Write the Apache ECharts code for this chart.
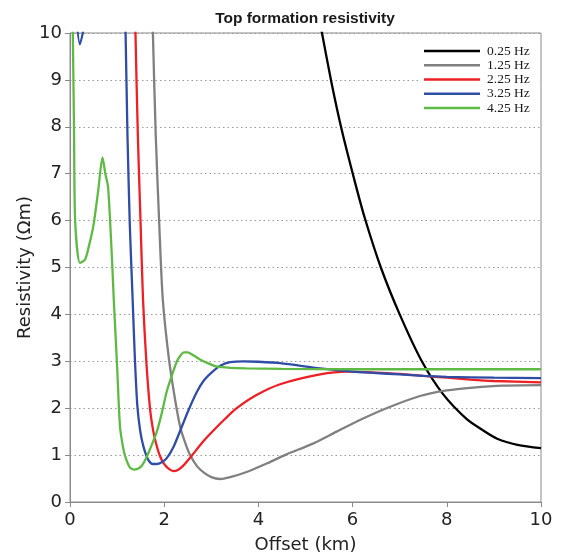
<!DOCTYPE html>
<html>
<head>
<meta charset="utf-8">
<script src="https://cdn.jsdelivr.net/npm/echarts@6/dist/echarts.min.js"></script>
<style>html,body{margin:0;padding:0;background:#fff}#c{width:562px;height:559px}</style>
</head>
<body>
<div id="c"></div>
<script>
const seriesNames = ['0.25 Hz', '1.25 Hz', '2.25 Hz', '3.25 Hz', '4.25 Hz'];
const xTicks = [0, 2, 4, 6, 8, 10];
const yTicks = [0, 1, 2, 3, 4, 5, 6, 7, 8, 9, 10];

const x025 = [5.2, 5.35, 5.55, 5.77, 6.05, 6.26, 6.6, 7.0, 7.47, 7.92, 8.43, 8.75, 9.07, 9.5, 10];
const r025 = [10.8, 10.0, 8.95, 7.93, 6.82, 6.05, 5.0, 4.0, 3.0, 2.3, 1.76, 1.54, 1.35, 1.22, 1.15];

const x125 = [1.73, 1.76, 1.82, 1.9, 1.97, 2.1, 2.23, 2.34, 2.45, 2.55, 2.7, 2.85, 3.0, 3.18, 3.4, 3.75, 4.2, 4.56, 5.17, 5.66, 6.2, 6.72, 7.43, 8.0, 8.56, 9.2, 10];
const r125 = [11.2, 10.0, 7.83, 5.8, 4.32, 3.05, 2.19, 1.6, 1.25, 1.0, 0.76, 0.62, 0.53, 0.49, 0.53, 0.64, 0.83, 1.0, 1.25, 1.5, 1.77, 2.0, 2.26, 2.38, 2.44, 2.48, 2.49];

const x225 = [1.37, 1.39, 1.44, 1.5, 1.55, 1.62, 1.70, 1.77, 1.84, 1.91, 1.98, 2.08, 2.19, 2.3, 2.41, 2.58, 2.8, 3.04, 3.3, 3.54, 3.96, 4.46, 5.31, 5.88, 6.5, 7.0, 7.5, 8.0, 8.5, 9.0, 10];
const r225 = [11.0, 10.0, 7.83, 5.9, 4.32, 3.0, 1.98, 1.5, 1.2, 0.98, 0.84, 0.72, 0.66, 0.69, 0.78, 0.98, 1.26, 1.52, 1.78, 2.0, 2.28, 2.51, 2.72, 2.78, 2.76, 2.73, 2.69, 2.65, 2.61, 2.58, 2.55];

const x325 = [0.12, 0.21, 0.34, 0.6, 1.1, 1.15, 1.18, 1.22, 1.27, 1.33, 1.38, 1.43, 1.49, 1.56, 1.66, 1.75, 1.84, 1.95, 2.05, 2.2, 2.34, 2.5, 2.69, 2.85, 3.04, 3.2, 3.4, 3.68, 4.0, 4.46, 5.31, 6.0, 6.5, 7.0, 7.5, 8.0, 9.0, 10];
const r325 = [10.5, 9.76, 10.35, 11.5, 12, 11.3, 10.0, 7.83, 5.9, 4.32, 3.0, 2.05, 1.52, 1.18, 0.9, 0.81, 0.81, 0.85, 0.93, 1.18, 1.52, 1.92, 2.34, 2.6, 2.79, 2.91, 2.98, 3.0, 2.99, 2.96, 2.85, 2.78, 2.75, 2.72, 2.69, 2.67, 2.65, 2.64];

const x425 = [0.05, 0.06, 0.085, 0.11, 0.21, 0.32, 0.4, 0.5, 0.6, 0.69, 0.75, 0.81, 0.9, 0.93, 1.0, 1.06, 1.12, 1.17, 1.27, 1.36, 1.44, 1.52, 1.6, 1.7, 1.84, 1.95, 2.05, 2.17, 2.27, 2.35, 2.42, 2.5, 2.6, 2.76, 2.95, 3.11, 3.4, 3.75, 4.5, 6, 8, 10];
const r425 = [10.8, 10.0, 8.0, 5.98, 5.1, 5.17, 5.45, 5.91, 6.65, 7.35, 7.0, 6.7, 5.0, 4.3, 2.9, 1.62, 1.2, 0.98, 0.74, 0.69, 0.71, 0.77, 0.9, 1.13, 1.49, 1.9, 2.34, 2.72, 3.0, 3.13, 3.19, 3.19, 3.14, 3.04, 2.95, 2.89, 2.86, 2.85, 2.84, 2.83, 2.83, 2.83];

const colors = ['#000000', '#808080', '#ee1f25', '#2f4da6', '#5fba45'];
const xs = [x025, x125, x225, x325, x425];
const rs = [r025, r125, r225, r325, r425];

const chart = echarts.init(document.getElementById('c'), null, {renderer: 'canvas'});
const axisFont = 'DejaVu Sans';
chart.setOption({
  animation: false,
  backgroundColor: '#ffffff',
  title: {
    text: 'Top formation resistivity',
    left: 300, top: 6, textAlign: 'center',
    textStyle: {fontFamily: 'Liberation Sans', fontWeight: 'bold', fontSize: 15.5, color: '#1a1a1a'}
  },
  legend: {
    orient: 'vertical', left: 418, top: 34,
    padding: [10, 10, 6, 6],
    backgroundColor: '#ffffff',
    icon: 'rect', itemWidth: 56, itemHeight: 2.5, itemGap: 0.25,
    textStyle: {fontFamily: 'Liberation Serif', fontSize: 13.5, color: '#1a1a1a', lineHeight: 14, padding: [0, 0, 0, 2]},
    data: seriesNames
  },
  grid: {left: 70, right: 21, top: 33, bottom: 56, show: true, borderColor: '#8a8a8a', borderWidth: 1},
  xAxis: {
    type: 'value', min: 0, max: 10, interval: 2,
    name: 'Offset (km)', nameLocation: 'middle', nameGap: 34,
    nameTextStyle: {fontFamily: axisFont, fontSize: 18, color: '#222'},
    axisLine: {show: true, lineStyle: {color: '#8a8a8a'}},
    axisTick: {show: true, length: 5, lineStyle: {color: '#8a8a8a'}},
    axisLabel: {fontFamily: axisFont, fontSize: 18, color: '#222', margin: 9,
      formatter: v => xTicks.includes(v) ? String(v) : ''},
    splitLine: {show: false}
  },
  yAxis: {
    type: 'value', min: 0, max: 10, interval: 1,
    name: 'Resistivity (Ωm)', nameLocation: 'middle', nameGap: 36, nameMoveOverlap: false,
    nameTextStyle: {fontFamily: axisFont, fontSize: 18, color: '#222'},
    axisLine: {show: true, lineStyle: {color: '#8a8a8a'}},
    axisTick: {show: true, length: 5, lineStyle: {color: '#8a8a8a'}},
    axisLabel: {fontFamily: axisFont, fontSize: 18, color: '#222', margin: 8,
      formatter: v => yTicks.includes(v) ? String(v) : ''},
    splitLine: {show: true, lineStyle: {color: '#9a9a9a', width: 1, type: [1.5, 3]}}
  },
  series: seriesNames.map((n, i) => ({
    name: n, type: 'line', showSymbol: false, symbol: 'none',
    smooth: 0.25, clip: true,
    color: colors[i],
    lineStyle: {width: 2.3, color: colors[i]},
    data: xs[i].map((x, j) => [x, rs[i][j]])
  }))
});
</script>
</body>
</html>
